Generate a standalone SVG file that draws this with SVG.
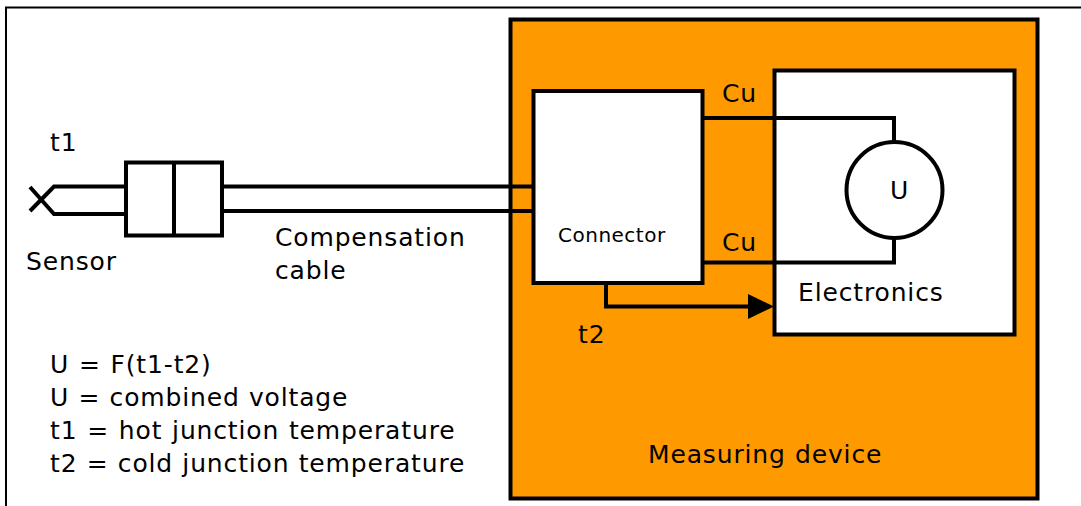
<svg xmlns="http://www.w3.org/2000/svg" width="1081" height="506" viewBox="0 0 1081 506">
<style>
text{font-family:"DejaVu Sans",Verdana,sans-serif;font-size:25px;letter-spacing:.85px;word-spacing:.5px;fill:#000}
.s{fill:#fff;stroke:#000;stroke-width:4}
.w{fill:none;stroke:#000;stroke-width:4}
</style>
<rect width="1081" height="506" fill="#fff"/>
<path d="M6 506V7.500H1081" fill="none" stroke="#000" stroke-width="2"/>
<g id="measuring-device"><rect x="510.500" y="19.500" width="527" height="479" fill="#f90" stroke="#000" stroke-width="4"/><text x="648" y="463">Measuring device</text></g>
<g id="electronics"><rect class="s" x="774.500" y="70.500" width="240" height="264"/><text x="798" y="301">Electronics</text></g>
<g id="connectors">
<path class="w" d="M30 187L54 214H126M30 211L54 186.500H126M222 186.500H533M222 211H533M702 118H894V142M702 262.500H894V238M606 283V306.500H750"/>
<path d="M748 294L774 306.500L748 319Z" fill="#000"/>
</g>
<g id="connector"><rect class="s" x="533.500" y="91" width="169" height="192"/><text x="558" y="242" style="font-size:20px;letter-spacing:.5px">Connector</text></g>
<g id="meter"><circle class="s" cx="894.500" cy="190" r="48"/><text x="890" y="199">U</text></g>
<g id="junction"><rect class="s" x="126" y="162.500" width="96" height="73"/><path class="w" d="M174 162V236"/></g>
<g id="labels">
<text x="50" y="151">t1</text><text x="26" y="270">Sensor</text>
<text x="275" y="246">Compensation</text><text x="275" y="279">cable</text>
<text x="722" y="102">Cu</text><text x="722" y="251">Cu</text><text x="578" y="343">t2</text>
<text x="50" y="373" style="word-spacing:1px">U = F(t1-t2)</text>
<text x="50" y="406">U = combined voltage</text>
<text x="50" y="439" style="word-spacing:1px">t1 = hot junction temperature</text>
<text x="50" y="472">t2 = cold junction temperature</text>
</g>
</svg>
